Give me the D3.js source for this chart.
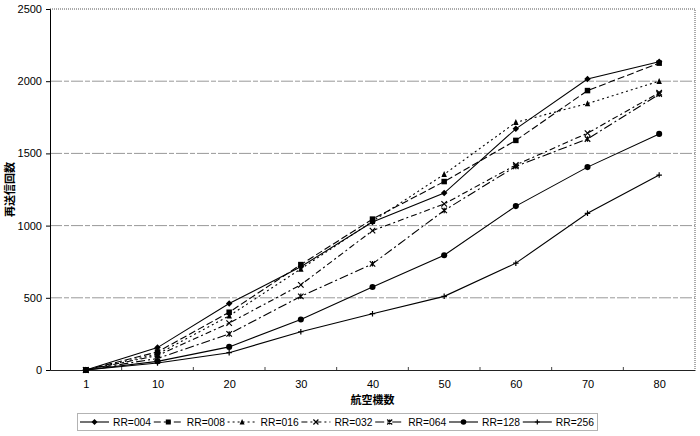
<!DOCTYPE html>
<html><head><meta charset="utf-8">
<script src="https://cdn.jsdelivr.net/npm/d3@7"></script>
<style>body{margin:0;background:#fff}svg{display:block}</style>
</head><body><svg id="c" width="700" height="436"></svg>
<script>
const categories = ["1","10","20","30","40","50","60","70","80"];
const seriesNames = ["RR=004","RR=008","RR=016","RR=032","RR=064","RR=128","RR=256"];
const RR004 = [0, 155, 460, 715, 1025, 1225, 1670, 2015, 2135];
const RR008 = [0, 125, 400, 730, 1045, 1305, 1590, 1935, 2125];
const RR016 = [0, 110, 375, 700, 1030, 1355, 1715, 1845, 2000];
const RR032 = [0, 100, 325, 590, 965, 1150, 1420, 1640, 1920];
const RR064 = [0, 80, 250, 510, 735, 1105, 1410, 1600, 1910];
const RR128 = [0, 60, 160, 350, 575, 795, 1135, 1405, 1635];
const RR256 = [0, 48, 120, 265, 390, 510, 740, 1085, 1350];
const yTicks = [0, 500, 1000, 1500, 2000, 2500];
const xTitle = "航空機数";
const yTitle = "再送信回数";

const values = [RR004, RR008, RR016, RR032, RR064, RR128, RR256];
const dashes = [null, "7,3", "2,3", "6,3,2,3", "9,3,2,3", null, null];
const markers = ["diamond","square","triangle","x","star","circle","plus"];

const svg = d3.select("#c");
const L = 50, R = 695, T = 9, B = 370;
const x = d3.scalePoint().domain(categories).range([L, R]).padding(0.5);
const xb = d3.scaleBand().domain(categories).range([L, R]);
const y = d3.scaleLinear().domain([0, 2500]).range([B, T]);
const font = "'Liberation Sans', Arial, sans-serif";
const cjk = "'Noto Sans CJK JP', sans-serif";

// gridlines
svg.append("g").selectAll("line").data(yTicks.filter(d => d > 0 && d < 2500)).join("line")
  .attr("x1", L).attr("x2", R).attr("y1", d => y(d)).attr("y2", d => y(d))
  .attr("stroke", "#999").attr("stroke-width", 1).attr("stroke-dasharray", "12,2,5,2");
// top & right border
svg.append("path").attr("d", `M${L},${y(2500)}H${R}V${B}`).attr("fill","none")
  .attr("stroke","#555").attr("stroke-dasharray","1,1");

// y axis
const ya = svg.append("g").attr("transform", `translate(${L},0)`)
  .call(d3.axisLeft(y).tickValues(yTicks).tickSize(4).tickPadding(4).tickFormat(d3.format("d")));
ya.select(".domain").attr("stroke","#000");
ya.selectAll(".tick line").attr("stroke","#000");
ya.selectAll("text").attr("font-family", font).attr("font-size", 11).attr("fill","#000");

// x axis
const xa = svg.append("g").attr("transform", `translate(0,${B})`)
  .call(d3.axisBottom(x).tickSize(0).tickPadding(10));
xa.select(".domain").attr("stroke","#222");
xa.selectAll("text").attr("font-family", font).attr("font-size", 11).attr("fill","#000");
// boundary ticks (inside)
svg.append("g").selectAll("line").data(categories.slice(1)).join("line")
  .attr("x1", d => xb(d)).attr("x2", d => xb(d)).attr("y1", B).attr("y2", B - 3)
  .attr("stroke", "#444");

// titles
svg.append("text").attr("x", (L + R) / 2).attr("y", 404).attr("text-anchor","middle")
  .attr("font-family", cjk).attr("font-size", 11).attr("font-weight","bold").text(xTitle);
svg.append("text").attr("transform", `translate(14,${(T + B) / 2}) rotate(-90)`)
  .attr("text-anchor","middle").attr("font-family", cjk).attr("font-size", 11)
  .attr("font-weight","bold").text(yTitle);

function drawMarker(g, type, cx, cy, s) {
  const h = s / 2;
  if (type === "diamond") g.append("path").attr("d", `M${cx},${cy-h-0.5}L${cx+h+0.5},${cy}L${cx},${cy+h+0.5}L${cx-h-0.5},${cy}Z`).attr("fill","#000");
  else if (type === "square") g.append("rect").attr("x", cx-h).attr("y", cy-h).attr("width", s).attr("height", s).attr("fill","#000");
  else if (type === "triangle") g.append("path").attr("d", `M${cx},${cy-h-0.5}L${cx+h},${cy+h}L${cx-h},${cy+h}Z`).attr("fill","#000");
  else if (type === "circle") g.append("circle").attr("cx", cx).attr("cy", cy).attr("r", h+0.3).attr("fill","#000");
  else if (type === "x") g.append("path").attr("d", `M${cx-h},${cy-h}L${cx+h},${cy+h}M${cx+h},${cy-h}L${cx-h},${cy+h}`).attr("stroke","#000").attr("stroke-width",1.2);
  else if (type === "star") g.append("path").attr("d", `M${cx-h},${cy-h}L${cx+h},${cy+h}M${cx+h},${cy-h}L${cx-h},${cy+h}M${cx},${cy-h}L${cx},${cy+h}`).attr("stroke","#000").attr("stroke-width",1.2);
  else if (type === "plus") g.append("path").attr("d", `M${cx-h},${cy}L${cx+h},${cy}M${cx},${cy-h}L${cx},${cy+h}`).attr("stroke","#000").attr("stroke-width",1.2);
}

const line = d3.line().x((d, i) => x(categories[i])).y(d => y(d));
values.forEach((vals, si) => {
  const g = svg.append("g");
  g.append("path").attr("d", line(vals)).attr("fill","none").attr("stroke","#000")
    .attr("stroke-width", 1.1).attr("stroke-dasharray", dashes[si]);
  vals.forEach((v, i) => drawMarker(g, markers[si], x(categories[i]), y(v), 5.5));
});

// legend
const lg = svg.append("g");
lg.append("rect").attr("x", 77.5).attr("y", 413.5).attr("width", 520).attr("height", 17)
  .attr("fill","#fff").attr("stroke","#666").attr("stroke-dasharray","1,1");
const step = 73.8;
seriesNames.forEach((name, i) => {
  const x0 = 80 + i * step, cy = 422;
  const g = lg.append("g");
  g.append("line").attr("x1", x0).attr("x2", x0 + 29).attr("y1", cy).attr("y2", cy)
    .attr("stroke","#000").attr("stroke-width",1.1).attr("stroke-dasharray", dashes[i]);
  drawMarker(g, markers[i], x0 + 14.5, cy, 5);
  g.append("text").attr("x", x0 + 33).attr("y", cy + 3.8).attr("font-family", font)
    .attr("font-size", 10.3).attr("fill","#000").text(name);
});
</script></body></html>
